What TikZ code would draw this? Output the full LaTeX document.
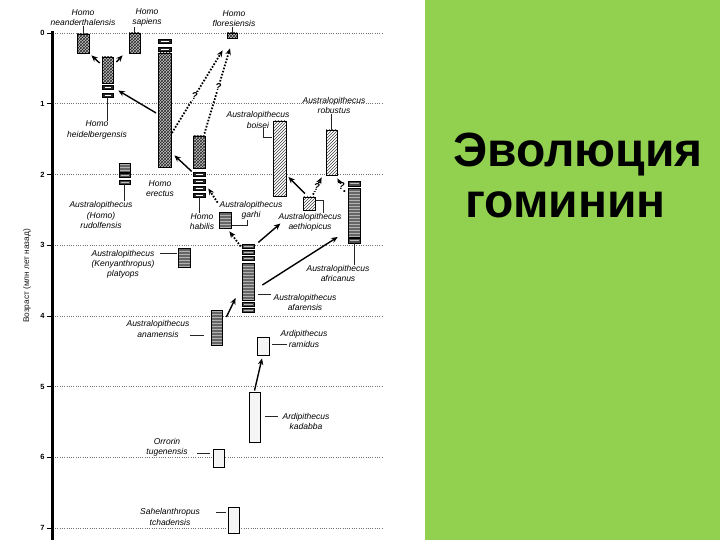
\documentclass[tikz,border=0pt]{standalone}
\usepackage{fontspec}
\setmainfont{Liberation Sans}
\usetikzlibrary{arrows.meta,patterns}
\definecolor{slidegreen}{HTML}{92D050}
\tikzset{
  bx/.style 2 args={minimum width=#1pt, minimum height=#2pt, inner sep=0pt},
  homobox/.style={draw, line width=0.8pt, preaction={fill=gray!45}, pattern=crosshatch, pattern color=black!85},
  homoseg/.style={draw, line width=0.6pt, fill=black!85, path picture={\draw[white, line width=0.9pt] ([xshift=2.5pt]path picture bounding box.west) -- ([xshift=-2.5pt]path picture bounding box.east);}},
  grayseg/.style={draw, line width=0.6pt, fill=black!70, path picture={\draw[white!75!black, line width=0.8pt] ([xshift=1.5pt]path picture bounding box.west) -- ([xshift=-1.5pt]path picture bounding box.east);}},
  hatchbox/.style={draw, line width=0.8pt, preaction={fill=white}, pattern=north east lines, pattern color=black!75},
  graybox/.style={draw, line width=0.8pt, preaction={fill=black!60}, pattern=horizontal lines, pattern color=white!70!black},
  lightbox/.style={draw, line width=0.8pt, fill=black!4},
  lbl/.style={font=\itshape\fontsize{8.5}{10.2}\selectfont, align=center, inner sep=0pt, text=black},
  lead/.style={line width=0.6pt, black!85},
  arr/.style={line width=1.4pt, -{Stealth[length=6.5pt,width=5.5pt]}},
  darr/.style={line width=1.8pt, dash pattern=on 1.6pt off 1.6pt, -{Stealth[length=6.5pt,width=5.5pt]}},
  qm/.style={font=\bfseries\itshape\fontsize{10}{10}\selectfont, inner sep=0.3pt, fill=white},
  gridl/.style={line width=0.6pt, black!55, dash pattern=on 0.8pt off 1.5pt},
  ticklbl/.style={font=\bfseries\fontsize{7.5}{7.5}\selectfont, inner sep=0pt}
}
\begin{document}
\begin{tikzpicture}[x=1pt,y=-1pt]
\useasboundingbox (0,0) rectangle (720,540);
\fill[white] (0,0) rectangle (720,540);
\fill[slidegreen] (425,0) rectangle (720,540);

% axis, ticks, grid
\draw[line width=3pt] (52,31) -- (52,540);
\foreach \k/\yy in {0/33,1/103.7,2/174.4,3/245.1,4/315.8,5/386.5,6/457.2,7/527.9}{
  \draw[gridl] (55,\yy) -- (383,\yy);
  \draw[line width=0.6pt] (46.5,\yy) -- (51,\yy);
  \node[ticklbl] (tick\k) at (42.5,\yy) {\k};
}
\node[rotate=90, font=\fontsize{8.3}{8.3}\selectfont, inner sep=0pt, text=black!90] (ylab) at (27,276) {Возраст (млн лет назад)};

% title
\node[anchor=base west, font=\bfseries\fontsize{48}{48}\selectfont, inner sep=0pt] (title1) at (453,167) {Эволюция};
\node[anchor=base west, font=\bfseries\fontsize{48}{48}\selectfont, inner sep=0pt] (title2) at (465,218) {гоминин};

% Homo boxes
\node[homobox, bx={12}{19}] (nean) at (83,43.5) {};
\node[homobox, bx={11}{20}] (sap) at (134.5,43) {};
\node[homobox, bx={11}{26}] (heid) at (107.5,70) {};
\node[homoseg, bx={11}{3.5}] (heidA) at (107.5,87.5) {};
\node[homoseg, bx={11}{4}] (heidB) at (107.5,95) {};
\node[homobox, bx={13}{114}] (erec) at (164.5,110) {};
\node[homoseg, bx={13}{3.5}] (erecA) at (164.5,41.5) {};
\node[homoseg, bx={13}{4}] (erecB) at (164.5,49) {};
\node[homobox, bx={10}{5}] (flor) at (232,35.5) {};
\node[homobox, bx={12}{32}] (habi) at (199,152) {};
\node[homoseg, bx={12}{3.5}] (habiA) at (199,174.5) {};
\node[homoseg, bx={12}{3.5}] (habiB) at (199,181.5) {};
\node[homoseg, bx={12}{3.5}] (habiC) at (199,188.5) {};
\node[homoseg, bx={12}{4}] (habiD) at (199,195) {};

% Australopithecus gray boxes
\node[graybox, bx={11}{9}] (rudo) at (124.5,167.5) {};
\node[grayseg, bx={11}{3.5}] (rudoA) at (124.5,175.5) {};
\node[grayseg, bx={11}{4}] (rudoB) at (124.5,182) {};
\node[graybox, bx={12}{19}] (platy) at (184,257.5) {};
\node[graybox, bx={12}{16}] (garh) at (225,220) {};
\node[grayseg, bx={12}{5}] (afriA) at (354,183.5) {};
\node[graybox, bx={12}{49}] (afri) at (354,212.5) {};
\node[grayseg, bx={12}{5}] (afriB) at (354,240.5) {};
\node[grayseg, bx={12}{3.5}] (afarA) at (248,246.5) {};
\node[grayseg, bx={12}{3.5}] (afarB) at (248,252.5) {};
\node[grayseg, bx={12}{3.5}] (afarC) at (248,258.5) {};
\node[graybox, bx={12}{37}] (afar) at (248,281.5) {};
\node[grayseg, bx={12}{3.5}] (afarD) at (248,304.5) {};
\node[grayseg, bx={12}{3.5}] (afarE) at (248,310.5) {};
\node[graybox, bx={11}{35}] (anam) at (216.5,327.5) {};

% robust hatched boxes
\node[hatchbox, bx={13}{75}] (bois) at (279.5,158.5) {};
\node[hatchbox, bx={11}{45}] (robu) at (331.5,152.5) {};
\node[hatchbox, bx={12}{13}] (aeth) at (309,203.5) {};

% early hominins
\node[lightbox, bx={12}{18}] (rami) at (263,346) {};
\node[lightbox, bx={11}{50}] (kada) at (254.5,417) {};
\node[lightbox, bx={11}{18}] (orro) at (218.5,458) {};
\node[lightbox, bx={11}{26}] (sahe) at (233.5,520) {};

% labels
\node[lbl] (neanL) at (83,17.5) {Homo\\neanderthalensis};
\node[lbl] (sapL) at (147,17.5) {Homo\\sapiens};
\node[lbl] (heidL) at (97,130) {Homo\\heidelbergensis};
\node[lbl] (florL) at (234,18.5) {Homo\\floresiensis};
\node[lbl] (erecL) at (160,189) {Homo\\erectus};
\node[lbl] (habiL) at (202,221.5) {Homo\\habilis};
\node[lbl] (rudoL) at (101,215) {Australopithecus\\(Homo)\\rudolfensis};
\node[lbl] (platyL) at (123,264.5) {Australopithecus\\(Kenyanthropus)\\platyops};
\node[lbl] (boisL) at (258,120) {Australopithecus\\boisei};
\node[lbl] (robuL) at (334,105.5) {Australopithecus\\robustus};
\node[lbl] (aethL) at (310,222.5) {Australopithecus\\aethiopicus};
\node[lbl] (afriL) at (338,273.5) {Australopithecus\\africanus};
\node[lbl] (garhL) at (251,210.5) {Australopithecus\\garhi};
\node[lbl] (afarL) at (305,302.5) {Australopithecus\\afarensis};
\node[lbl] (anamL) at (158,329) {Australopithecus\\anamensis};
\node[lbl] (ramiL) at (304,339) {Ardipithecus\\ramidus};
\node[lbl] (kadaL) at (306,421.5) {Ardipithecus\\kadabba};
\node[lbl] (orroL) at (167,447) {Orrorin\\tugenensis};
\node[lbl] (saheL) at (170,517) {Sahelanthropus\\tchadensis};

% leaders
\draw[lead] (neanL.south) -- (nean.north);
\draw[lead] (sap.north) -- (sap.north |- sapL.south);
\draw[lead] (heidB.south) -- (heidB.south |- heidL.north);
\draw[lead] (flor.north) -- (flor.north |- florL.south);
\draw[lead] (habiD.south) -- (habiD.south |- habiL.north);
\draw[lead] (rudoB.south) -- (rudoB.south |- rudoL.north);
\draw[lead] ([xshift=-1pt,yshift=4.5pt]platy.west) -- ++(-17,0);
\draw[lead] ([xshift=5pt]boisL.south) |- ([xshift=-1pt,yshift=21.5pt]bois.west);
\draw[lead] (robu.north) -- (robu.north |- robuL.south);
\draw[lead] ([xshift=1pt,yshift=3.5pt]aeth.east) -| ([xshift=13pt]aethL.north);
\draw[lead] (afriB.south) -- (afriB.south |- afriL.north);
\draw[lead] ([xshift=1pt,yshift=-5pt]garh.east) -| ([xshift=-4pt]garhL.south);
\draw[lead] ([xshift=4pt,yshift=-13pt]afar.east) -- ++(13,0);
\draw[lead] ([xshift=-7pt,yshift=-7.5pt]anam.west) -- ++(-14,0);
\draw[lead] ([xshift=3pt,yshift=2pt]rami.east) -- ++(15,0);
\draw[lead] ([xshift=5pt,yshift=1pt]kada.east) -- ++(13,0);
\draw[lead] ([xshift=-3pt,yshift=5pt]orro.west) -- ++(-13,0);
\draw[lead] ([xshift=-2pt,yshift=8pt]sahe.west) -- ++(-10,0);

% arrows
\draw[arr] ([xshift=-2pt,yshift=7pt]heid.west) -- ([xshift=2pt,yshift=-2pt]nean.south east);
\draw[arr] ([xshift=3pt,yshift=8pt]heid.east) -- ([xshift=-6pt,yshift=-2pt]sap.south west);
\draw[arr] ([xshift=-1.5pt,yshift=-3pt]erec.west) -- ([xshift=5pt,yshift=-1pt]heidA.south east);
\draw[arr] ([xshift=-1pt,yshift=1pt]habiA.north west) -- ([xshift=3pt,yshift=12pt]erec.south east);
\draw[darr] ([xshift=0.5pt,yshift=-23pt]erec.east) -- node[qm, pos=0.45] (q1) {?} ([xshift=-4pt,yshift=-12pt]flor.south west);
\draw[darr] ([xshift=-1pt,yshift=2pt]habi.north east) -- node[qm, pos=0.55] (q2) {?} ([xshift=-2pt,yshift=-10pt]flor.south);
\draw[arr] ([xshift=-4pt,yshift=3pt]aeth.north) -- ([xshift=2pt,yshift=-18.5pt]bois.east);
\draw[darr] ([xshift=4pt,yshift=2pt]aeth.north) -- node[qm, pos=0.45] (q3) {?} ([xshift=-4pt,yshift=-2pt]robu.south west);
\draw[darr] ([xshift=-3pt,yshift=-5.5pt]afriA.south west) -- node[qm, pos=0.4] (q4) {?} ([yshift=-3pt]robu.south east);
\draw[darr] ([xshift=-1pt,yshift=9pt]garh.north west) -- ([xshift=3pt]habiC.east);
\draw[darr] ([xshift=-1pt]afarA.west) -- ([xshift=-2pt,yshift=-3pt]garh.south east);
\draw[arr] ([xshift=4pt,yshift=2pt]afarA.north east) -- ([xshift=2pt,yshift=-1pt]aethL.west);
\draw[arr] ([xshift=8pt,yshift=-3.5pt]afar.east) -- ([xshift=-10pt,yshift=3.5pt]afriB.west);
\draw[arr] ([xshift=4pt,yshift=10.5pt]anam.east) -- ([xshift=-6pt,yshift=-16.5pt]afar.west);
\draw[arr] ([yshift=1pt]kada.north) -- ([xshift=-1pt,yshift=-3pt]rami.south);
\end{tikzpicture}
\end{document}
